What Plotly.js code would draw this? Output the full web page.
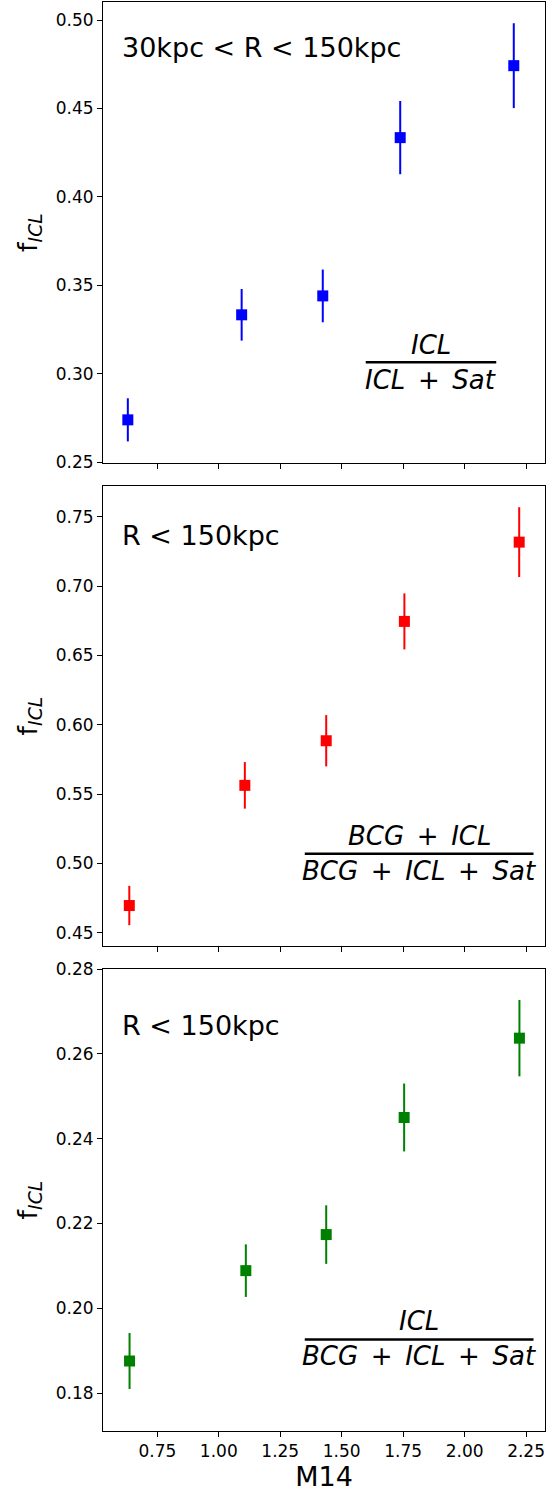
<!DOCTYPE html>
<html>
<head>
<meta charset="utf-8">
<script src="https://cdn.plot.ly/plotly-3.0.1.min.js"></script>
<style>html,body{margin:0;padding:0;background:#fff;}#chart{width:559px;height:1495px;}</style>
</head>
<body>
<div id="chart"></div>
<script>
// ---- data ----
const m14_top = [0.630, 1.093, 1.423, 1.738, 2.200];
const fICL_top = [0.2739, 0.3333, 0.3440, 0.4335, 0.4742];
const err_top = [0.0122, 0.0146, 0.0149, 0.0207, 0.0240];

const m14_mid = [0.636, 1.106, 1.437, 1.755, 2.222];
const fICL_mid = [0.4696, 0.5563, 0.5885, 0.6746, 0.7318];
const err_mid = [0.0142, 0.0168, 0.0185, 0.0202, 0.0252];

const m14_bot = [0.637, 1.110, 1.437, 1.754, 2.223];
const fICL_bot = [0.1876, 0.2089, 0.2174, 0.2450, 0.2637];
const err_bot = [0.0066, 0.0062, 0.0069, 0.0080, 0.0090];

const panelLabels = ["30kpc < R < 150kpc", "R < 150kpc", "R < 150kpc"];
const fracNum = ["ICL", "BCG + ICL", "ICL"];
const fracDen = ["ICL + Sat", "BCG + ICL + Sat", "BCG + ICL + Sat"];
const xLabel = "M14";
const yLabel = "f<sub><i>ICL</i></sub>";

// ---- styles ----
const FONT = "DejaVu Sans, sans-serif";
function mathSpace(s) { return s.split(" + ").join(" \u2006+\u2006 "); }
function trace(x, y, e, color, xa, ya) {
  return {
    x: x, y: y, type: "scatter", mode: "markers",
    xaxis: xa, yaxis: ya,
    marker: {symbol: "square", size: 11, color: color},
    error_y: {type: "data", array: e, visible: true, color: color, thickness: 2, width: 0},
    showlegend: false, hoverinfo: "x+y"
  };
}
const data = [
  trace(m14_top, fICL_top, err_top, "#0000ff", "x", "y"),
  trace(m14_mid, fICL_mid, err_mid, "#ff0000", "x2", "y2"),
  trace(m14_bot, fICL_bot, err_bot, "#008000", "x3", "y3")
];

const axBase = {
  showline: true, mirror: true, linecolor: "#000", linewidth: 1,
  ticks: "outside", ticklen: 5, tickwidth: 1, tickcolor: "#000",
  showgrid: false, zeroline: false,
  tickfont: {family: FONT, size: 17, color: "#000"}
};
const xRange = [0.529, 2.327];
function xax(extra) {
  return Object.assign({}, axBase, {range: xRange, tickvals: [0.75,1.0,1.25,1.5,1.75,2.0,2.25], tickformat: ".2f"}, extra);
}
function yax(range, dtick, domain, extra) {
  return Object.assign({}, axBase, {
    range: range, dtick: dtick, tick0: 0, tickformat: ".2f", domain: domain,
    title: {text: yLabel, font: {family: FONT, size: 27, color: "#000"}, standoff: 10}
  }, extra);
}
const doms = [[0.6774, 1.0], [0.3394, 0.6613], [0.0, 0.3233]];

const layout = {
  width: 559, height: 1495,
  margin: {l: 103, r: 13.5, t: 2, b: 64},
  paper_bgcolor: "#fff", plot_bgcolor: "#fff",
  font: {family: FONT, color: "#000"},
  xaxis: xax({anchor: "y", showticklabels: false}),
  xaxis2: xax({anchor: "y2", showticklabels: false, matches: "x"}),
  xaxis3: xax({anchor: "y3", matches: "x", title: {text: xLabel, font: {family: FONT, size: 27, color: "#000"}, standoff: 6}}),
  yaxis: yax([0.2495, 0.5102], 0.05, doms[0], {anchor: "x"}),
  yaxis2: yax([0.4404, 0.7723], 0.05, doms[1], {anchor: "x2"}),
  yaxis3: yax([0.1711, 0.2800], 0.02, doms[2], {anchor: "x3"}),
  annotations: [],
  shapes: []
};

// panel labels
const labY = [0.9685, 0.6270, 0.2841];
for (let i = 0; i < 3; i++) {
  layout.annotations.push({
    xref: "paper", yref: "paper", x: 0.0385, y: labY[i],
    xanchor: "left", yanchor: "middle", showarrow: false,
    text: panelLabels[i], font: {family: FONT, size: 27, color: "#000"}
  });
}
// fractions
const frac = [
  {cx: 0.7420, x0: 0.5944, x1: 0.8897, ny: 0.7602, ly: 0.7479, dy: 0.7355},
  {cx: 0.7153, x0: 0.4565, x1: 0.9740, ny: 0.4164, ly: 0.4040, dy: 0.3919},
  {cx: 0.7153, x0: 0.4565, x1: 0.9740, ny: 0.0767, ly: 0.0640, dy: 0.0525}
];
for (let i = 0; i < 3; i++) {
  const f = frac[i];
  layout.annotations.push({
    xref: "paper", yref: "paper", x: f.cx, y: f.ny, xanchor: "center", yanchor: "middle",
    showarrow: false, text: "<i>" + mathSpace(fracNum[i]) + "</i>", font: {family: FONT, size: 26, color: "#000"}
  });
  layout.annotations.push({
    xref: "paper", yref: "paper", x: f.cx, y: f.dy, xanchor: "center", yanchor: "middle",
    showarrow: false, text: "<i>" + mathSpace(fracDen[i]) + "</i>", font: {family: FONT, size: 26, color: "#000"}
  });
  layout.shapes.push({
    type: "line", xref: "paper", yref: "paper", x0: f.x0, x1: f.x1, y0: f.ly, y1: f.ly,
    line: {color: "#000", width: 2.5}
  });
}

Plotly.newPlot("chart", data, layout, {staticPlot: true, displayModeBar: false});
</script>
</body>
</html>
